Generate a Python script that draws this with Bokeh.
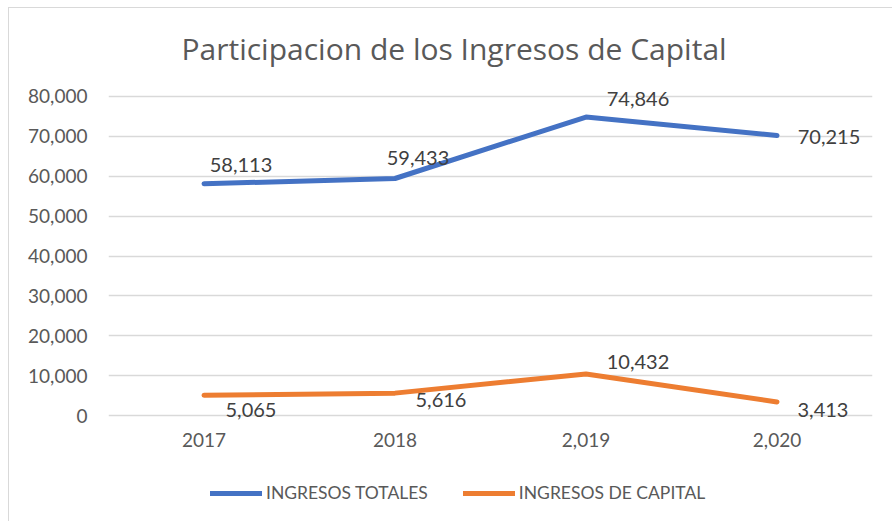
from bokeh.plotting import figure
from bokeh.layouts import column
from bokeh.models import (ColumnDataSource, LabelSet, Legend, LegendItem, Title,
                          FixedTicker, NumeralTickFormatter, Range1d, FactorRange)
from bokeh.core.properties import value
from bokeh.embed import file_html
from bokeh.resources import INLINE

# ---- data ----
years = ["2017", "2018", "2,019", "2,020"]
ingresos_totales = [58113, 59433, 74846, 70215]
ingresos_capital = [5065, 5616, 10432, 3413]
y_ticks = [0, 10000, 20000, 30000, 40000, 50000, 60000, 70000, 80000]
title_text = "Participacion de los Ingresos de Capital"
series_names = ["INGRESOS TOTALES", "INGRESOS DE CAPITAL"]

# label offsets (screen px, y up) - styling only
tot_dx = [37, 23, 52, 52]
tot_dy = [19, 20, 18, -2]
cap_dx = [47, 46, 52, 46]
cap_dy = [-15, -7, 12, -8]

FONT = "Lato"
TFONT = "Open Sans"
BLUE = "#4472C4"
ORANGE = "#ED7D31"

def fmt(v):
    return f"{v:,}"

# frame padded by 10px above the top gridline and below the zero line (40px = 10,000)
p = figure(x_range=FactorRange(*years), y_range=Range1d(-2500, 82500),
           width=883, height=462, output_backend="svg", toolbar_location=None,
           min_border_left=99, min_border_right=20, min_border_top=77,
           min_border_bottom=45)
p.outline_line_color = None
p.background_fill_color = "white"
p.border_fill_color = "white"

src_t = ColumnDataSource(dict(x=years, y=ingresos_totales,
                              lab=[fmt(v) for v in ingresos_totales],
                              dx=tot_dx, dy=tot_dy))
src_c = ColumnDataSource(dict(x=years, y=ingresos_capital,
                              lab=[fmt(v) for v in ingresos_capital],
                              dx=cap_dx, dy=cap_dy))

p.line("x", "y", source=src_t, line_color=BLUE, line_width=5,
       line_cap="round", line_join="round")
p.line("x", "y", source=src_c, line_color=ORANGE, line_width=5,
       line_cap="round", line_join="round")

for src in (src_t, src_c):
    p.add_layout(LabelSet(x="x", y="y", text="lab", source=src,
                          x_offset="dx", y_offset="dy",
                          text_align="center", text_baseline="middle",
                          text_font=value(FONT), text_font_size="20px",
                          text_color="#404040"))

# axes
p.yaxis.ticker = FixedTicker(ticks=y_ticks)
p.yaxis.formatter = NumeralTickFormatter(format="0,0")
for ax in (p.xaxis[0], p.yaxis[0]):
    ax.axis_line_color = None
    ax.major_tick_line_color = None
    ax.minor_tick_line_color = None
    ax.major_label_text_font = FONT
    ax.major_label_text_font_size = "19px"
    ax.major_label_text_color = "#595959"
p.yaxis.major_label_standoff = 15
p.xaxis.major_label_standoff = 1

p.xgrid.grid_line_color = None
p.ygrid.ticker = FixedTicker(ticks=y_ticks)
p.ygrid.grid_line_color = "#d9d9d9"
p.ygrid.grid_line_width = 1.5

p.add_layout(Title(text=title_text, align="left", offset=73, standoff=35,
                   text_font=TFONT, text_font_size="30px", text_font_style="normal",
                   text_color="#595959"), "above")

# legend strip (proxy lines sit outside the visible range)
q = figure(x_range=Range1d(0, 1), y_range=Range1d(0, 1), width=883, height=51,
           output_backend="svg", toolbar_location=None,
           x_axis_type=None, y_axis_type=None,
           min_border_left=0, min_border_right=0, min_border_top=0,
           min_border_bottom=0)
q.outline_line_color = None
q.xgrid.grid_line_color = None
q.ygrid.grid_line_color = None
q.border_fill_color = "white"
l1 = q.line(x=[0, 1], y=[5, 5], line_color=BLUE, line_width=5, line_cap="round")
l2 = q.line(x=[0, 1], y=[5, 5], line_color=ORANGE, line_width=5, line_cap="round")

legend = Legend(items=[LegendItem(label=series_names[0], renderers=[l1]),
                       LegendItem(label=series_names[1], renderers=[l2])],
                orientation="horizontal", location=(102, 18),
                padding=0, margin=0, spacing=35,
                glyph_width=52, glyph_height=20, label_standoff=4,
                label_text_font=FONT, label_text_font_size="17.5px",
                label_text_color="#595959", border_line_color=None,
                background_fill_alpha=0)
q.add_layout(legend, "center")

layout = column(p, q, spacing=0,
                styles={"margin-left": "8px", "margin-top": "7px",
                        "border-left": "1px solid #d9d9d9",
                        "border-top": "1px solid #d9d9d9"})

open("out.html", "w").write(file_html(layout, INLINE))
